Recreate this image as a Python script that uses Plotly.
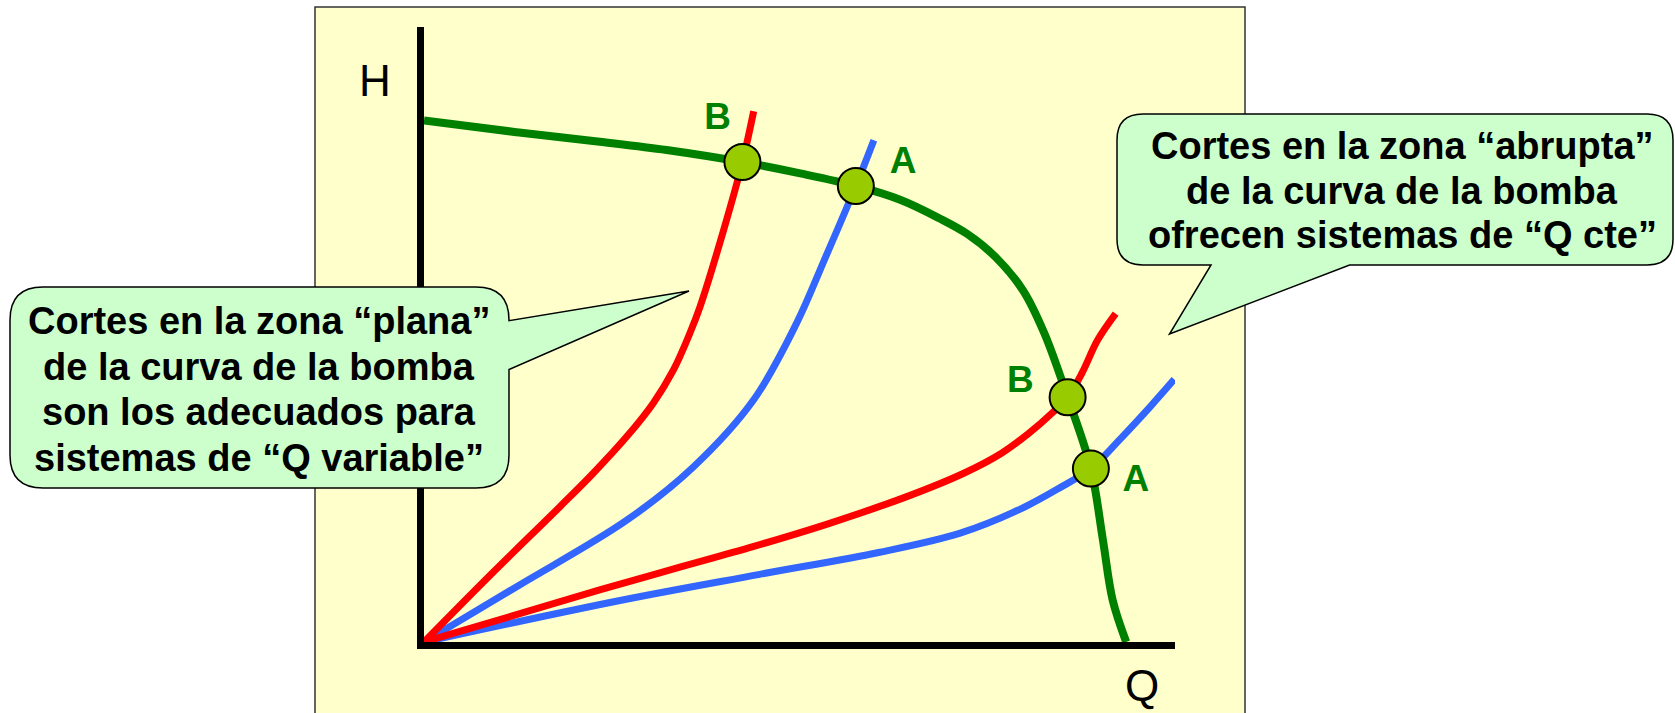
import plotly.graph_objects as go

# ---------------- data (Q = caudal, H = altura) ----------------
pump_q = [0, 12.3, 23.4, 32.3, 42.4, 50.1, 57.5, 63.4, 68.6, 72.4, 76.1, 79.8,
          82.6, 85.7, 88.8, 90.4, 91.7, 93.5]
pump_h = [84.8, 82.9, 81.35, 80.0, 78.05, 76.2, 74.15, 71.9, 68.9, 66.3, 62.6, 57.1,
          50.2, 39.8, 28.2, 16.6, 6.8, 0]

# system curves cutting the flat zone of the pump curve
flatB_q = [0, 9.0, 18.1, 22.5, 27.0, 30.5, 33.2, 35.4, 36.75, 39.9, 42.4, 43.9]
flatB_h = [0, 11.1, 22.0, 27.4, 33.4, 38.8, 44.2, 50.2, 54.5, 67.0, 78.05, 86.3]
flatA_q = [0, 12.34, 27.0, 35.9, 43.85, 49.6, 53.3, 57.5, 59.9]
flatA_h = [0, 9.0, 19.8, 28.5, 39.3, 51.8, 62.1, 74.15, 81.6]

# system curves cutting the steep zone of the pump curve
steepB_q = [0, 23.5, 33.6, 43.8, 54.0, 64.2, 71.8, 76.9, 80.5, 83.6, 85.7, 87.6, 89.7, 92.1]
steepB_h = [0, 8.5, 12.0, 15.5, 19.3, 23.6, 27.4, 30.7, 33.9, 37.2, 39.8, 43.7, 49.1, 53.4]
steepA_q = [0, 26.1, 44.7, 60.7, 71.4, 79.4, 84.7, 88.8, 92.7, 96.8, 99.9]
steepA_h = [0, 6.75, 11.0, 14.6, 17.7, 21.6, 25.1, 28.2, 33.0, 38.4, 42.7]

# operating points
op_q = [42.4, 57.5, 85.7, 88.8]
op_h = [78.05, 74.15, 39.8, 28.2]
op_labels = ["B", "A", "B", "A"]
op_label_q = [39.1, 63.8, 79.4, 94.8]
op_label_h = [84.9, 77.8, 42.1, 26.1]

axis_labels = ["H", "Q"]
left_text = ["Cortes en la zona “plana”", "de la curva de la bomba",
             "son los adecuados para", "sistemas de “Q variable”"]
right_text = ["Cortes en la zona “abrupta”", "de la curva de la bomba",
              "ofrecen sistemas de “Q cte”"]

# ---------------- styling / layout geometry ----------------
W, H = 1675, 713
PL, PR, PT, PB = 424, 1175, 27, 642          # plot area in pixels
GREEN, RED, BLUE = "#008000", "#FF0000", "#3366FF"
FONT = "Arial, Liberation Sans, sans-serif"


def px(x):
    return (x - PL) / (PR - PL)


def py(y):
    return (PB - y) / (PB - PT)


def callout_path(x0, y0, x1, y1, r, tail, side):
    """Rounded rectangle with a pointer (pixel coordinates -> paper)."""
    P = lambda x, y: f"{px(x):.5f},{py(y):.5f}"
    d = [f"M{P(x0 + r, y0)}"]
    d.append(f"L{P(x1 - r, y0)}")
    d.append(f"Q{P(x1, y0)} {P(x1, y0 + r)}")
    if side == "right":
        for (tx, ty) in tail:
            d.append(f"L{P(tx, ty)}")
    d.append(f"L{P(x1, y1 - r)}")
    d.append(f"Q{P(x1, y1)} {P(x1 - r, y1)}")
    if side == "bottom":
        for (tx, ty) in tail:
            d.append(f"L{P(tx, ty)}")
    d.append(f"L{P(x0 + r, y1)}")
    d.append(f"Q{P(x0, y1)} {P(x0, y1 - r)}")
    d.append(f"L{P(x0, y0 + r)}")
    d.append(f"Q{P(x0, y0)} {P(x0 + r, y0)}")
    d.append("Z")
    return " ".join(d)


fig = go.Figure()

fig.add_trace(go.Scatter(x=flatA_q, y=flatA_h, mode="lines", line=dict(color=BLUE, width=7, shape="spline"),
                         name="Sistema A (zona plana)"))
fig.add_trace(go.Scatter(x=steepA_q, y=steepA_h, mode="lines", line=dict(color=BLUE, width=7, shape="spline"),
                         name="Sistema A (zona abrupta)"))
fig.add_trace(go.Scatter(x=flatB_q, y=flatB_h, mode="lines", line=dict(color=RED, width=7, shape="spline"),
                         name="Sistema B (zona plana)"))
fig.add_trace(go.Scatter(x=steepB_q, y=steepB_h, mode="lines", line=dict(color=RED, width=7, shape="spline"),
                         name="Sistema B (zona abrupta)"))
fig.add_trace(go.Scatter(x=pump_q, y=pump_h, mode="lines", line=dict(color=GREEN, width=8, shape="spline"),
                         name="Curva de la bomba"))
fig.add_trace(go.Scatter(x=op_q, y=op_h, mode="markers",
                         marker=dict(size=36, color="#99CC00", line=dict(color="black", width=2)),
                         name="Puntos de funcionamiento"))
fig.add_trace(go.Scatter(x=op_label_q, y=op_label_h, mode="text", text=op_labels,
                         textfont=dict(family=FONT, size=37, color=GREEN, weight="bold"),
                         textposition="middle center", name="Etiquetas"))

shapes = [
    dict(type="rect", xref="paper", yref="paper", x0=px(315), x1=px(1245), y0=py(730), y1=py(7),
         fillcolor="#FFFFCC", line=dict(color="#333333", width=1.5), layer="below"),
    dict(type="path", xref="paper", yref="paper", layer="above",
         path=callout_path(10, 287, 509, 488, 33, [(509, 320.7), (689, 291), (509, 369.5)], "right"),
         fillcolor="#CCFFCC", line=dict(color="black", width=1.5)),
    dict(type="path", xref="paper", yref="paper", layer="above",
         path=callout_path(1117, 114, 1673, 265, 26, [(1349.6, 265), (1169.5, 334), (1211, 265)], "bottom"),
         fillcolor="#CCFFCC", line=dict(color="black", width=1.5)),
]

annotations = []
for i, t in enumerate(left_text):
    annotations.append(dict(xref="paper", yref="paper", x=px(259), y=py(321 + i * 45.7), text=t,
                            showarrow=False, xanchor="center", yanchor="middle",
                            font=dict(family=FONT, size=38, color="black", weight="bold")))
for i, t in enumerate(right_text):
    annotations.append(dict(xref="paper", yref="paper", x=px(1402), y=py(146 + i * 44.5), text=t,
                            showarrow=False, xanchor="center", yanchor="middle",
                            font=dict(family=FONT, size=38, color="black", weight="bold")))
annotations.append(dict(xref="paper", yref="paper", x=px(375), y=py(81), text=axis_labels[0],
                        showarrow=False, xanchor="center", yanchor="middle",
                        font=dict(family=FONT, size=44, color="black")))
annotations.append(dict(xref="paper", yref="paper", x=px(1142), y=py(685), text=axis_labels[1],
                        showarrow=False, xanchor="center", yanchor="middle",
                        font=dict(family=FONT, size=44, color="black")))

fig.update_layout(
    width=W, height=H,
    margin=dict(l=PL, r=W - PR, t=PT, b=H - PB, pad=0, autoexpand=False),
    paper_bgcolor="white", plot_bgcolor="rgba(0,0,0,0)",
    showlegend=False,
    shapes=shapes, annotations=annotations,
    xaxis=dict(range=[0, 100], showline=True, linecolor="black", linewidth=7, showgrid=False,
               zeroline=False, showticklabels=False, ticks="", fixedrange=True),
    yaxis=dict(range=[0, 100], showline=True, linecolor="black", linewidth=7, showgrid=False,
               zeroline=False, showticklabels=False, ticks="", fixedrange=True),
)

fig.write_html("out.html", config={"displayModeBar": False},
               post_script="document.body.style.margin='0';document.body.style.overflow='hidden';")
